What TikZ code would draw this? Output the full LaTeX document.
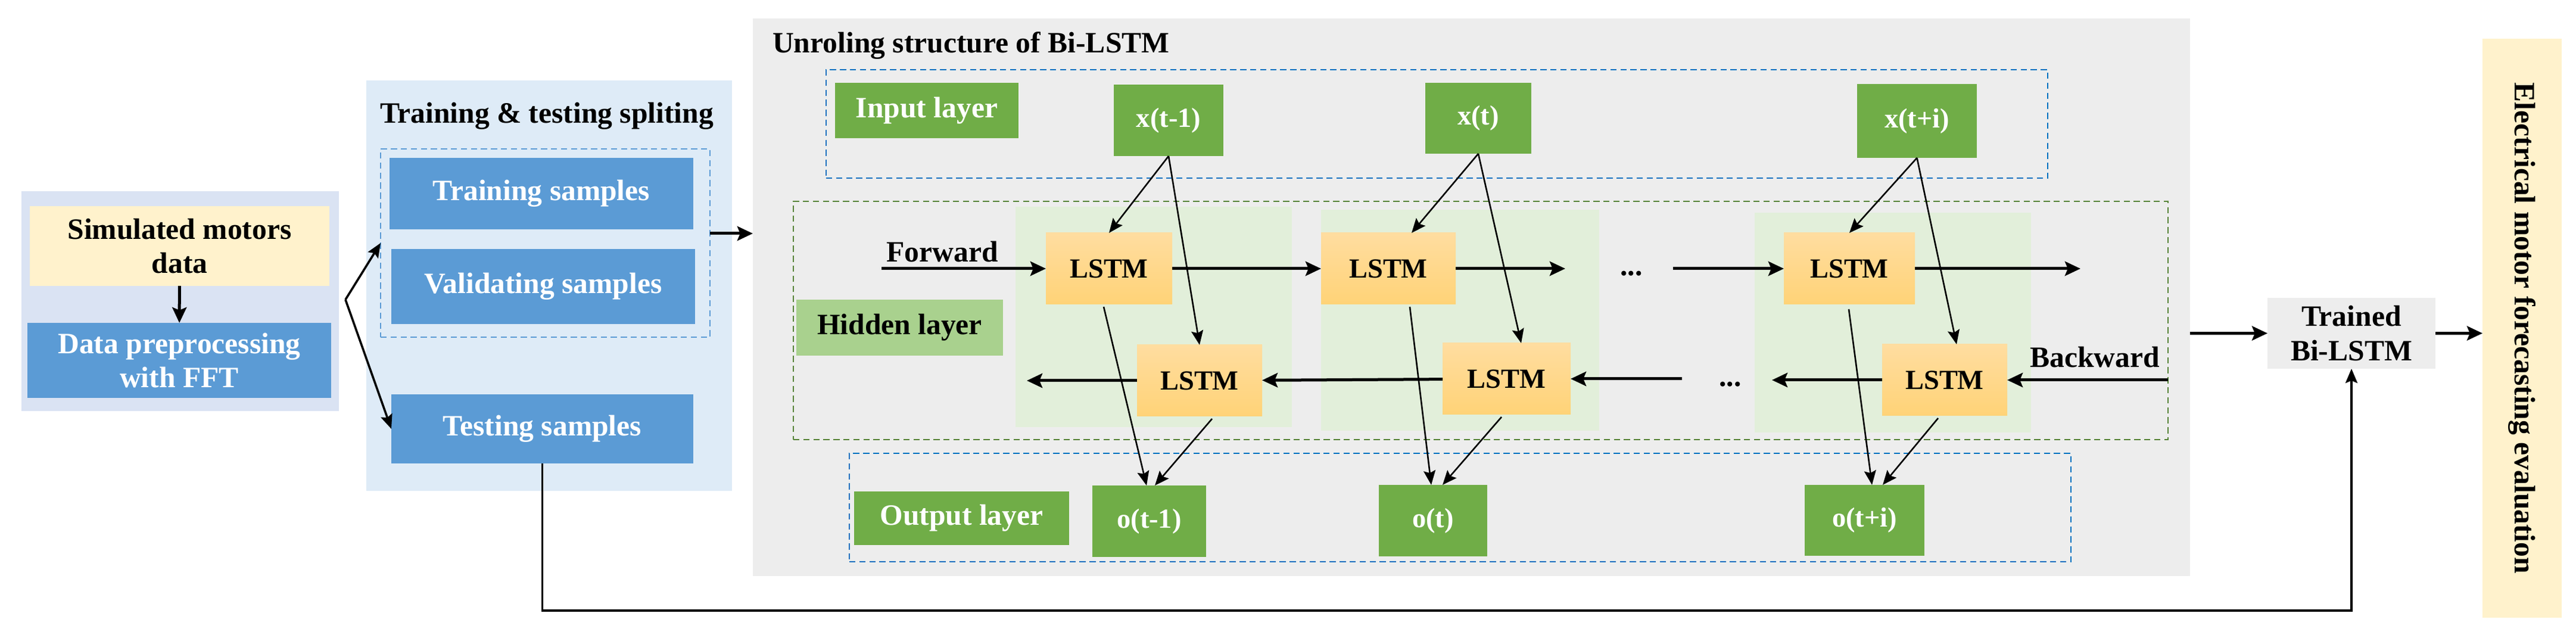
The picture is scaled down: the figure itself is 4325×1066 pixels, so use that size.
\documentclass[tikz,border=0pt]{standalone}
\usepackage{fontspec}
\setmainfont{Liberation Serif}
\usetikzlibrary{arrows.meta,shadings}
\definecolor{lpanel}{HTML}{DAE3F3}
\definecolor{mpanel}{HTML}{DEEBF7}
\definecolor{ybox}{HTML}{FFF2CC}
\definecolor{bbox}{HTML}{5B9BD5}
\definecolor{gpanel}{HTML}{EDEDED}
\definecolor{gbox}{HTML}{70AD47}
\definecolor{hlab}{HTML}{A9D18E}
\definecolor{gcol}{HTML}{E2EFDA}
\definecolor{ltop}{HTML}{FFDDA0}
\definecolor{lbot}{HTML}{FFD377}
\definecolor{dblue}{HTML}{0070C0}
\definecolor{dgreen}{HTML}{548235}
\definecolor{trainedc}{HTML}{EDEDED}
\newcommand\bigf{\fontsize{12.4}{14.4}\selectfont}
\newcommand\midf{\fontsize{11.6}{13.6}\selectfont}
\begin{document}
\begin{tikzpicture}[x=0.25pt,y=-0.25pt,
  rect/.style args={#1/#2/#3/#4}{inner sep=0pt, outer sep=0pt,
     minimum width={(#3-#1)*0.25pt}, minimum height={(#4-#2)*0.25pt},
     at={({(#1+#3)/2},{(#2+#4)/2})}},
  txt/.style={font=\bfseries\bigf, align=center},
  stxt/.style={font=\bfseries\midf, align=center},
  panelbox/.style={fill=#1},
  bluebox/.style={fill=bbox, txt, text=white},
  greenbox/.style={fill=gbox, stxt, text=white},
  labbox/.style={fill=gbox, txt, text=white},
  lstmbox/.style={top color=ltop, bottom color=lbot, stxt},
  dashbox/.style={draw=#1, line width=0.65pt, dash pattern=on 2.6pt off 1.6pt},
  thickarr/.style={line width=1.25pt, -{Stealth[length=6.5pt,width=6pt,inset=1.2pt]}},
  medarr/.style={line width=0.9pt, -{Stealth[length=6pt,width=5pt,inset=1pt]}},
  thinarr/.style={line width=0.65pt, -{Stealth[length=6pt,width=5pt,inset=1pt]}}
]
\useasboundingbox (0,0) rectangle (4325,1066);
\fill[white] (0,0) rectangle (4325,1066);

% ---------- left panel
\node[rect=36/321/569/690, panelbox=lpanel] (lp) {};
\node[rect=50/346/553/480, fill=ybox, txt] (sim) {Simulated motors\\data};
\node[rect=46/542/556/668, bluebox] (pre) {Data preprocessing\\with FFT};

% ---------- middle panel
\node[rect=615/135/1229/824, panelbox=mpanel] (mp) {};
\node[txt, anchor=base] (mtitle) at (918,207) {Training \& testing spliting};
\node[rect=639/250/1192/566, dashbox=bbox] (tdash) {};
\node[rect=654/265/1164/385, bluebox] (train) {Training samples};
\node[rect=657/418/1167/544, bluebox] (valid) {Validating samples};
\node[rect=657/662/1164/778, bluebox] (test) {Testing samples};

% ---------- gray panel
\node[rect=1264/31/3677/967, panelbox=gpanel] (gp) {};
\node[txt, anchor=base west] (gtitle) at (1283,89) {Unroling structure of Bi-LSTM};

\node[rect=1387/117/3438/299, dashbox=dblue] (inp) {};
\node[rect=1332/338/3640/738, dashbox=dgreen] (hid) {};
\node[rect=1426/761/3477/943, dashbox=dblue] (outb) {};

\node[rect=1705/347/2169/717, panelbox=gcol] (c1) {};
\node[rect=2218/352/2685/723, panelbox=gcol] (c2) {};
\node[rect=2946/357/3410/726, panelbox=gcol] (c3) {};

\node[rect=1337/503/1684/597, fill=hlab, txt] (hlabel) {Hidden layer};
\node[rect=1402/139/1710/232, labbox] (ilabel) {Input layer};
\node[rect=1434/825/1795/915, labbox] (olabel) {Output layer};

\node[rect=1870/142/2054/262, greenbox] (x1) {x(t-1)};
\node[rect=2393/139/2571/258, greenbox] (x2) {x(t)};
\node[rect=3118/141/3319/265, greenbox] (x3) {x(t+i)};
\node[rect=1834/815/2025/935, greenbox] (o1) {o(t-1)};
\node[rect=2315/814/2497/934, greenbox] (o2) {o(t)};
\node[rect=3030/814/3231/933, greenbox] (o3) {o(t+i)};

\node[rect=1756/391/1968/511, lstmbox] (f1) {LSTM};
\node[rect=2218/391/2444/511, lstmbox] (f2) {LSTM};
\node[rect=2995/391/3215/511, lstmbox] (f3) {LSTM};
\node[rect=1909/579/2119/699, lstmbox] (b1) {LSTM};
\node[rect=2422/576/2637/696, lstmbox] (b2) {LSTM};
\node[rect=3160/578/3370/698, lstmbox] (b3) {LSTM};

\node[txt, anchor=base] (fwdlab) at (1582,440) {Forward};
\node[txt, anchor=base] (bwdlab) at (3517,617) {Backward};
\node[txt, anchor=base] (dots1) at (2739,463) {...};
\node[txt, anchor=base] (dots2) at (2905,649) {...};

% ---------- right part
\node[rect=3807/500/4089/619, fill=trainedc, txt] (trained) {Trained\\Bi-LSTM};
\node[rect=4168/65/4301/1037, panelbox=ybox] (bar) {};
\node[txt, rotate=-90] (bartext) at (bar.center) {Electrical motor forecasting evaluation};

% ---------- connectors, left
\draw[thickarr] (sim) -- (pre);
\coordinate (split) at (580,503);
\draw[medarr] (split) -- (tdash.west);
\draw[medarr] (split) -- (test.west);
\draw[thickarr] ([yshift=4pt]tdash.east) -- ([yshift=4pt]tdash.east -| gp.west);

% forward chain
\coordinate (fin) at (1480,451);
\coordinate (f2out) at (2628,451);
\coordinate (f3in) at (2809,451);
\coordinate (f3out) at (3493,451);
\draw[thickarr] (fin) -- (f1);
\draw[thickarr] (f1) -- (f2);
\draw[thickarr] (f2) -- (f2out);
\draw[thickarr] (f3in) -- (f3);
\draw[thickarr] (f3) -- (f3out);

% backward chain
\coordinate (bin) at (3640,638);
\coordinate (b3out) at (2975,638);
\coordinate (b2in) at (2824,636);
\coordinate (b1out) at (1724,639);
\draw[thickarr] (bin) -- (b3);
\draw[thickarr] (b3) -- (b3out);
\draw[thickarr] (b2in) -- (b2);
\draw[thickarr] (b2) -- (b1);
\draw[thickarr] (b1) -- (b1out);

% inputs to LSTMs
\draw[thinarr] (x1.south) -- (f1.north);
\draw[thinarr] (x1.south) -- (b1.north);
\draw[thinarr] (x2.south) -- (2370,0 |- f2.north);
\draw[thinarr] (x2.south) -- (2554,0 |- b2.north);
\draw[thinarr] (x3.south) -- (f3.north);
\draw[thinarr] (x3.south) -- (3285,0 |- b3.north);

% LSTMs to outputs
\draw[thinarr] ([yshift=-1pt]1853,0 |- f1.south) -- (1925,0 |- o1.north);
\draw[thinarr] ([yshift=-1pt]2035,0 |- b1.south) -- (1939,0 |- o1.north);
\draw[thinarr] ([yshift=-1pt]2367,0 |- f2.south) -- (2403,0 |- o2.north);
\draw[thinarr] ([yshift=-1pt]2521,0 |- b2.south) -- (2422,0 |- o2.north);
\draw[thinarr] ([yshift=-2pt]3104,0 |- f3.south) -- (3143,0 |- o3.north);
\draw[thinarr] ([yshift=-1pt]3254,0 |- b3.south) -- (3161,0 |- o3.north);

% to trained model and evaluation
\draw[thickarr] (gp.east |- trained.west) -- (trained.west);
\draw[thickarr] (trained.east) -- (trained.east -| bar.west);
\coordinate (lb) at (910.5,1025);
\draw[medarr] (test.south) -- (lb) -| (trained.south);
\end{tikzpicture}
\end{document}
